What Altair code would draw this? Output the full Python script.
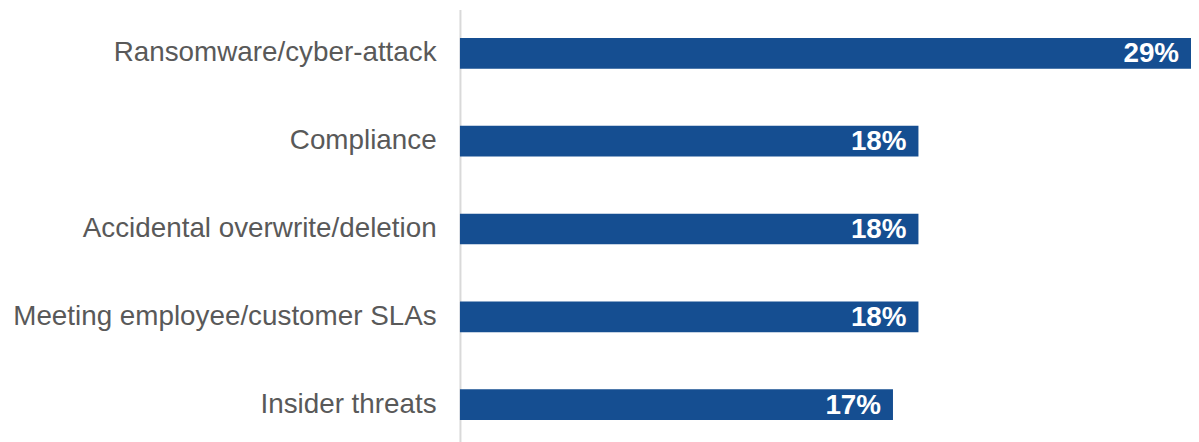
import altair as alt
import pandas as pd

categories = [
    "Ransomware/cyber-attack",
    "Compliance",
    "Accidental overwrite/deletion",
    "Meeting employee/customer SLAs",
    "Insider threats",
]
# values (labels are the rounded figures shown)
values = [28.7, 18.0, 18.0, 18.0, 17.0]
labels = ["29%", "18%", "18%", "18%", "17%"]

df = pd.DataFrame({"category": categories, "value": values, "label": labels})

FONT = "Liberation Sans, Arial, sans-serif"

y_enc = alt.Y(
    "category:N",
    sort=categories,
    title=None,
    scale=alt.Scale(paddingInner=0.65, paddingOuter=0.325),
    axis=alt.Axis(
        ticks=False,
        labelPadding=24,
        labelFont=FONT,
        labelFontSize=28,
        labelColor="#595959",
        labelLimit=600,
        domainColor="#d9d9d9",
        domainWidth=2,
        grid=False,
    ),
)
x_enc = alt.X("value:Q", scale=alt.Scale(domain=[0, 28.7], nice=False), axis=None)

bars = alt.Chart(df).mark_bar(color="#154E91").encode(y=y_enc, x=x_enc)

text = alt.Chart(df).mark_text(
    align="right",
    baseline="middle",
    dx=-12,
    dy=1,
    font=FONT,
    fontSize=28,
    fontWeight="bold",
    color="white",
).encode(y=alt.Y("category:N", sort=categories), x="value:Q", text="label:N")

chart = (
    alt.layer(bars, text)
    .properties(
        width=736,
        height=442,
        autosize=alt.AutoSizeParams(type="none"),
        padding={"left": 455, "top": 0, "right": 0, "bottom": 0},
    )
    .configure_view(stroke=None)
)

chart.save("out.html", embed_options={"renderer": "svg", "actions": False})
